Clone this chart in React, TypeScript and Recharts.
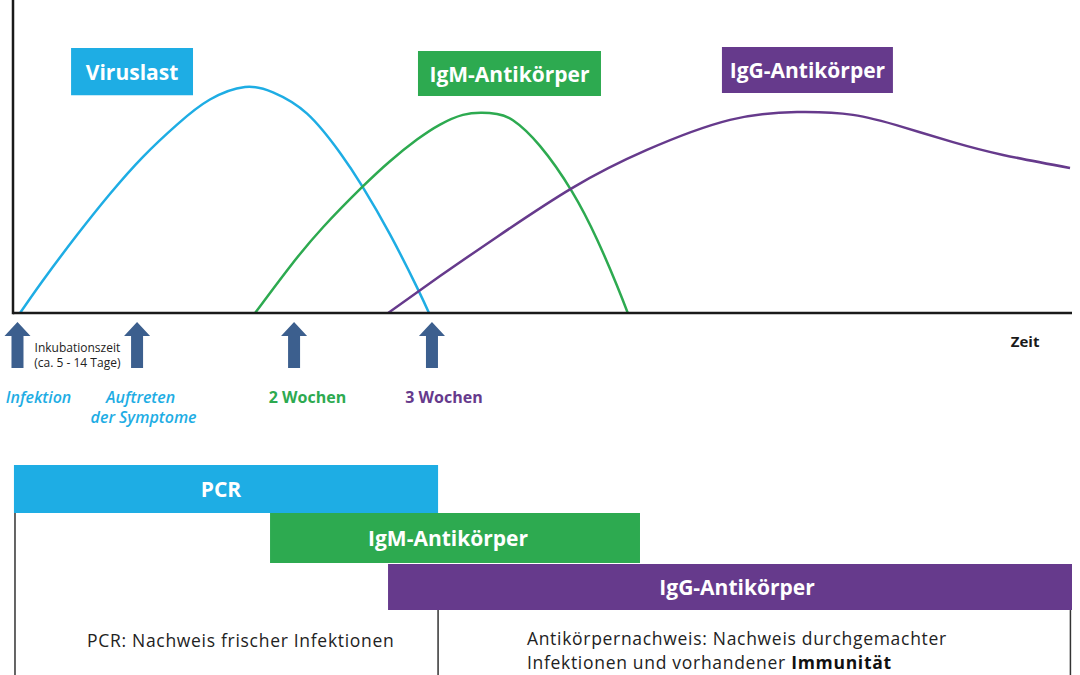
import React from 'react';
import { LineChart, Line, XAxis, YAxis, ReferenceArea, ReferenceDot, ReferenceLine } from 'recharts';

const FONT = '"Open Sans", "Noto Sans", sans-serif';

const BLUE = '#1eade4';
const GREEN = '#2daa50';
const PURPLE = '#663a8c';
const ARROW = '#3c5f8e';
const INK = '#1a1a1a';

// x = days after infection, v = relative level (0..100)
const virusLoad = [
  { d: 0.13, v: 0 }, { d: 1.29, v: 10.4 }, { d: 3.02, v: 24.9 }, { d: 4.7, v: 38.1 },
  { d: 6.37, v: 49.9 }, { d: 8.1, v: 60.2 }, { d: 9.77, v: 68.2 }, { d: 11.55, v: 72.2 },
  { d: 12.97, v: 70.5 }, { d: 14.7, v: 63.7 }, { d: 16.37, v: 51.2 }, { d: 17.49, v: 40.6 },
  { d: 18.91, v: 25.1 }, { d: 20.28, v: 8.2 }, { d: 20.89, v: 0 },
];

const igmLevel = [
  { d: 12.06, v: 0 }, { d: 13.83, v: 14.8 }, { d: 15.51, v: 27.4 }, { d: 17.49, v: 40.2 },
  { d: 18.91, v: 48.5 }, { d: 20.28, v: 55.4 }, { d: 21.45, v: 60.2 }, { d: 22.61, v: 63.3 },
  { d: 23.58, v: 64.0 }, { d: 24.34, v: 63.6 }, { d: 25.15, v: 61.6 }, { d: 26.52, v: 53.4 },
  { d: 28.15, v: 38.8 }, { d: 29.42, v: 23.5 }, { d: 30.43, v: 8.8 }, { d: 30.98, v: 0 },
];

const iggLevel = [
  { d: 18.81, v: 0 }, { d: 21.45, v: 11.8 }, { d: 24.34, v: 24.3 }, { d: 28.15, v: 39.9 },
  { d: 31.95, v: 52.1 }, { d: 36.17, v: 61.7 }, { d: 39.57, v: 64.2 }, { d: 42.41, v: 63.3 },
  { d: 44.95, v: 59.4 }, { d: 47.49, v: 54.6 }, { d: 50.03, v: 50.5 }, { d: 53.43, v: 46.3 },
];

const X_DOMAIN: [number, number] = [-0.228, 53.53];
const Y_DOMAIN: [number, number] = [0, 100];

// time markers (days)
const markerDays = [0, 6.07, 14.04, 21.04];

// series name boxes
const seriesBoxes = [
  { text: 'Viruslast', x1: 2.72, x2: 8.91, y1: 69.6, y2: 84.7, color: BLUE, dx: 0 },
  { text: 'IgM-Antikörper', x1: 20.33, x2: 29.62, y1: 69.3, y2: 83.7, color: GREEN, dx: 0 },
  { text: 'IgG-Antikörper', x1: 35.76, x2: 44.44, y1: 70.3, y2: 85.0, color: PURPLE, dx: 0 },
];

// detection windows (days)
const testWindows = [
  { text: 'PCR', x1: -0.18, x2: 21.35, y1: -63.9, y2: -48.6, color: BLUE, dx: -5 },
  { text: 'IgM-Antikörper', x1: 12.82, x2: 31.6, y1: -79.9, y2: -63.9, color: GREEN, dx: -7 },
  { text: 'IgG-Antikörper', x1: 18.81, x2: 53.53, y1: -94.9, y2: -80.2, color: PURPLE, dx: 7 },
];

const dividerLines = [
  { x: -0.127, y1: -63.9, y2: -125 },
  { x: 21.35, y1: -94.9, y2: -125 },
  { x: 53.45, y1: -94.9, y2: -125 },
];

type Txt = {
  d: number; v: number; text: string; color: string; size: number;
  weight?: number; italic?: boolean; anchor?: 'start' | 'middle' | 'end'; spacing?: number;
};

const texts: Txt[] = [
  { d: 1.07, v: -26.8, text: 'Infektion', color: BLUE, size: 16, weight: 600, italic: true },
  { d: 6.25, v: -26.8, text: 'Auftreten', color: BLUE, size: 16, weight: 600, italic: true },
  { d: 6.4, v: -33.2, text: 'der Symptome', color: BLUE, size: 16, weight: 600, italic: true },
  { d: 14.72, v: -26.8, text: '2 Wochen', color: GREEN, size: 16, weight: 700 },
  { d: 21.65, v: -26.8, text: '3 Wochen', color: PURPLE, size: 16, weight: 700 },
  { d: 3.04, v: -10.9, text: 'Inkubationszeit', color: '#222', size: 12, weight: 400 },
  { d: 3.04, v: -15.7, text: '(ca. 5 - 14 Tage)', color: '#222', size: 12, weight: 400 },
  { d: 51.15, v: -8.9, text: 'Zeit', color: INK, size: 15, weight: 700 },
  { d: 3.53, v: -104.5, text: 'PCR: Nachweis frischer Infektionen', color: '#222', size: 17.5, weight: 400, anchor: 'start', spacing: 0.7 },
  { d: 25.86, v: -103.8, text: 'Antikörpernachweis: Nachweis durchgemachter', color: '#222', size: 17.5, weight: 400, anchor: 'start', spacing: 0.7 },
];

const Arrow = (p: any) => {
  const { cx, cy } = p;
  const pts = [
    [cx, cy], [cx + 13, cy + 14], [cx + 6, cy + 14], [cx + 6, cy + 46],
    [cx - 6, cy + 46], [cx - 6, cy + 14], [cx - 13, cy + 14],
  ].map((q) => q.join(',')).join(' ');
  return <polygon points={pts} fill={ARROW} />;
};

const makeText = (t: Txt) => (p: any) => (
  <text
    x={p.cx}
    y={p.cy}
    fill={t.color}
    fontSize={t.size}
    fontWeight={t.weight ?? 400}
    fontStyle={t.italic ? 'italic' : 'normal'}
    fontFamily={FONT}
    letterSpacing={t.spacing ?? 0}
    textAnchor={t.anchor ?? 'middle'}
    dominantBaseline="central"
  >
    {t.text}
  </text>
);

const ImmunText = (p: any) => (
  <text x={p.cx} y={p.cy} fill="#222" fontSize={17.5} letterSpacing={0.7} fontFamily={FONT} textAnchor="start" dominantBaseline="central">
    Infektionen und vorhandener <tspan fontWeight={700} fill="#111">Immunität</tspan>
  </text>
);

const boxLabel = (text: string, dx: number) => (props: any) => {
  const vb = props.viewBox || {};
  return (
    <text
      x={vb.x + vb.width / 2 + dx}
      y={vb.y + vb.height / 2}
      fill="#fff"
      fontSize={21}
      fontWeight={700}
      fontFamily={FONT}
      textAnchor="middle"
      dominantBaseline="central"
    >
      {text}
    </text>
  );
};

export default function App() {
  return (
    <div style={{ position: 'absolute', left: 0, top: 0, width: 1080, height: 675, background: '#fff', overflow: 'hidden' }}>
      <LineChart width={1080} height={675} margin={{ top: 0, right: 8, left: 13, bottom: 362 }}>
        <XAxis type="number" dataKey="d" domain={X_DOMAIN} allowDataOverflow hide />
        <YAxis type="number" domain={Y_DOMAIN} allowDataOverflow hide />

        {seriesBoxes.map((b) => (
          <ReferenceArea
            key={'sb' + b.text}
            x1={b.x1}
            x2={b.x2}
            y1={b.y1}
            y2={b.y2}
            fill={b.color}
            fillOpacity={1}
            stroke="none"
            ifOverflow="visible"
            label={boxLabel(b.text, b.dx)}
          />
        ))}

        {testWindows.map((b) => (
          <ReferenceArea
            key={'tw' + b.text}
            x1={b.x1}
            x2={b.x2}
            y1={b.y1}
            y2={b.y2}
            fill={b.color}
            fillOpacity={1}
            stroke="none"
            ifOverflow="visible"
            label={boxLabel(b.text, b.dx)}
          />
        ))}

        {dividerLines.map((l, i) => (
          <ReferenceLine
            key={'dl' + i}
            segment={[{ x: l.x, y: l.y1 }, { x: l.x, y: l.y2 }]}
            stroke="#333"
            strokeWidth={1.5}
            ifOverflow="visible"
          />
        ))}

        {markerDays.map((d) => (
          <ReferenceDot key={'m' + d} x={d} y={-2.88} r={1} ifOverflow="visible" shape={Arrow} />
        ))}

        {texts.map((t, i) => (
          <ReferenceDot key={'t' + i} x={t.d} y={t.v} r={1} ifOverflow="visible" shape={makeText(t)} />
        ))}
        <ReferenceDot x={25.86} y={-111.5} r={1} ifOverflow="visible" shape={ImmunText} />

        <Line data={virusLoad} dataKey="v" type="natural" stroke={BLUE} strokeWidth={2.5} dot={false} activeDot={false} isAnimationActive={false} />
        <Line data={igmLevel} dataKey="v" type="natural" stroke={GREEN} strokeWidth={2.5} dot={false} activeDot={false} isAnimationActive={false} />
        <Line data={iggLevel} dataKey="v" type="natural" stroke={PURPLE} strokeWidth={2.5} dot={false} activeDot={false} isAnimationActive={false} />

        {/* axes */}
        <ReferenceLine
          segment={[{ x: X_DOMAIN[0], y: 0 }, { x: X_DOMAIN[1], y: 0 }]}
          stroke={INK}
          strokeWidth={2.5}
          ifOverflow="visible"
        />
        <ReferenceLine
          segment={[{ x: X_DOMAIN[0], y: -0.4 }, { x: X_DOMAIN[0], y: Y_DOMAIN[1] }]}
          stroke={INK}
          strokeWidth={2.5}
          ifOverflow="visible"
        />
      </LineChart>
    </div>
  );
}
